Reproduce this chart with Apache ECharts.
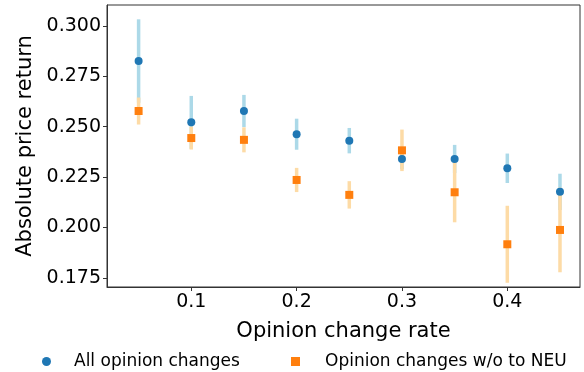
<!DOCTYPE html>
<html>
<head>
<meta charset="utf-8">
<script src="https://cdn.jsdelivr.net/npm/echarts@6/dist/echarts.min.js"></script>
<style>
  html, body { margin: 0; padding: 0; background: #fff; }
  #chart { width: 584px; height: 372px; }
</style>
</head>
<body>
<div id="chart"></div>
<script>
// opinion change rate (x)
const rates = [0.05, 0.1, 0.15, 0.2, 0.25, 0.3, 0.35, 0.4, 0.45];

// all opinion changes: mean and error half-width
const allMean = [0.2826, 0.2522, 0.2578, 0.2463, 0.2431, 0.2340, 0.2340, 0.2294, 0.2177];
const allErr  = [0.0207, 0.0131, 0.0080, 0.0077, 0.0063, 0.0050, 0.0070, 0.0073, 0.0090];

// opinion changes w/o to NEU
const neuMean = [0.2578, 0.2444, 0.2435, 0.2236, 0.2162, 0.2383, 0.2175, 0.1917, 0.1988];
const neuErr  = [0.0067, 0.0057, 0.0062, 0.0060, 0.0068, 0.0103, 0.0149, 0.0191, 0.0210];

const xTicks = [0.1, 0.2, 0.3, 0.4];
const yTicks = [0.175, 0.2, 0.225, 0.25, 0.275, 0.3];

const font = "DejaVu Sans";

const chart = echarts.init(document.getElementById("chart"));

const barData = (mean, err) => rates.map((x, i) => [x, mean[i] - err[i], mean[i] + err[i]]);
const pointData = (mean) => rates.map((x, i) => [x, mean[i]]);

const errorBar = (color) => (params, api) => {
  const top = api.coord([api.value(0), api.value(2)]);
  const bottom = api.coord([api.value(0), api.value(1)]);
  return {
    type: "line",
    shape: { x1: top[0], y1: top[1], x2: bottom[0], y2: bottom[1] },
    style: { stroke: color, lineWidth: 3.5 },
  };
};

const option = {
  animation: false,
  grid: {
    left: 107, right: 4, top: 5, bottom: 85,
    show: true, borderColor: "#333", borderWidth: 1,
  },
  legend: [
    {
      data: [{ name: "All opinion changes", icon: "circle" }],
      left: 37, top: 348,
      itemWidth: 9, itemHeight: 9,
      textStyle: { fontFamily: font, fontSize: 17, color: "#000", padding: [0, 0, 0, 18] },
    },
    {
      data: [{ name: "Opinion changes w/o to NEU", icon: "rect" }],
      left: 286, top: 348,
      itemWidth: 9, itemHeight: 9,
      textStyle: { fontFamily: font, fontSize: 17, color: "#000", padding: [0, 0, 0, 20] },
    },
  ],
  xAxis: {
    type: "value",
    min: 0.02, max: 0.469,
    name: "Opinion change rate",
    nameLocation: "middle",
    nameGap: 34,
    nameTextStyle: { fontFamily: font, fontSize: 21, color: "#000" },
    splitLine: { show: false },
    axisLine: { show: true, onZero: false, lineStyle: { color: "#333" } },
    axisTick: { show: true, length: 4, customValues: xTicks, lineStyle: { color: "#333" } },
    axisLabel: {
      customValues: xTicks, margin: 6,
      fontFamily: font, fontSize: 19, color: "#000",
      formatter: (v) => v.toFixed(1),
    },
  },
  yAxis: {
    type: "value",
    min: 0.1705, max: 0.3104,
    name: "Absolute price return",
    nameLocation: "middle",
    nameGap: 69,
    nameTextStyle: { fontFamily: font, fontSize: 21, color: "#000" },
    splitLine: { show: false },
    axisLine: { show: true, onZero: false, lineStyle: { color: "#333" } },
    axisTick: { show: true, length: 4, customValues: yTicks, lineStyle: { color: "#333" } },
    axisLabel: {
      customValues: yTicks, margin: 6,
      fontFamily: font, fontSize: 19, color: "#000",
      formatter: (v) => v.toFixed(3),
    },
  },
  series: [
    {
      type: "custom",
      renderItem: errorBar("#acd9e8"),
      data: barData(allMean, allErr),
      encode: { x: 0, y: [1, 2] },
      z: 1,
    },
    {
      type: "custom",
      renderItem: errorBar("#fddba6"),
      data: barData(neuMean, neuErr),
      encode: { x: 0, y: [1, 2] },
      z: 2,
    },
    {
      name: "All opinion changes",
      type: "scatter",
      symbol: "circle",
      symbolSize: 8,
      itemStyle: { color: "#1f77b4", opacity: 1 },
      data: pointData(allMean),
      z: 3,
    },
    {
      name: "Opinion changes w/o to NEU",
      type: "scatter",
      symbol: "rect",
      symbolSize: 8,
      itemStyle: { color: "#ff7f0e", opacity: 1 },
      data: pointData(neuMean),
      z: 4,
    },
  ],
};

chart.setOption(option);
window.addEventListener("resize", () => chart.resize());
</script>
</body>
</html>
